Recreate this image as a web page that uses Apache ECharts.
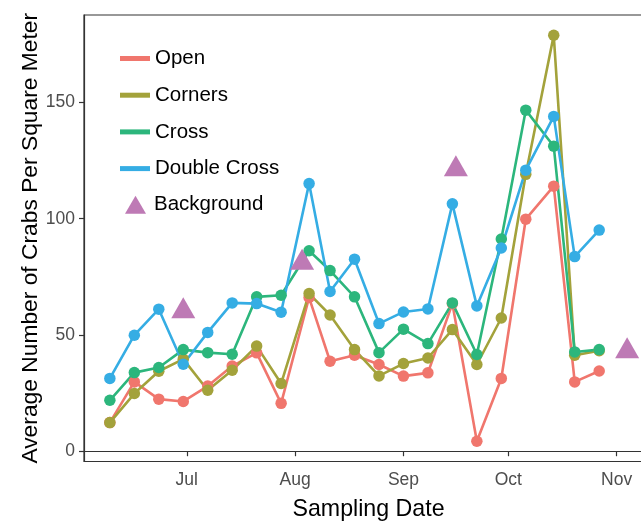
<!DOCTYPE html>
<html>
<head>
<meta charset="utf-8">
<script src="https://cdn.jsdelivr.net/npm/echarts@6/dist/echarts.min.js"></script>
<style>
  html, body { margin: 0; padding: 0; background: #ffffff; overflow: hidden; }
  /* plot panel runs past the right edge of the 641px view */
  #chart { width: 653px; height: 523px; }
</style>
</head>
<body>
<div id="chart"></div>
<script>
// Weekly sampling dates
const dates = [
  '2015-06-09', '2015-06-16', '2015-06-23', '2015-06-30', '2015-07-07',
  '2015-07-14', '2015-07-21', '2015-07-28', '2015-08-05', '2015-08-11',
  '2015-08-18', '2015-08-25', '2015-09-01', '2015-09-08', '2015-09-15',
  '2015-09-22', '2015-09-29', '2015-10-06', '2015-10-14', '2015-10-20',
  '2015-10-27'
];

// Mean crab density per treatment (crabs / m^2)
const openVals = [12.3, 29.8, 22.4, 21.4, 28.0, 36.6, 42.3, 20.6, 66.1, 38.7,
  41.3, 37.3, 32.3, 33.7, 63.5, 4.3, 31.3, 99.8, 114.0, 29.8, 34.5];
const cornersVals = [12.3, 24.8, 34.4, 39.6, 26.2, 34.8, 45.2, 29.1, 67.8, 58.6,
  43.7, 32.4, 37.7, 40.1, 52.3, 37.3, 57.3, 119.1, 178.9, 41.3, 43.2];
const crossVals = [21.9, 33.8, 36.0, 43.7, 42.4, 41.7, 66.4, 67.1, 86.2, 77.7,
  66.4, 42.4, 52.5, 46.3, 63.8, 41.6, 91.3, 146.7, 131.2, 42.7, 43.7];
const doubleCrossVals = [31.3, 49.9, 61.1, 37.4, 51.1, 63.8, 63.5, 59.8, 115.1, 68.7,
  82.6, 54.9, 59.9, 61.2, 106.4, 62.5, 87.4, 120.9, 144.0, 83.7, 95.1];

// Background (unmanipulated) samples
const bgDates = ['2015-06-30', '2015-08-03', '2015-09-16', '2015-11-04'];
const bgVals = [60.2, 81.1, 121.3, 43.0];

// Axis ticks
const monthTicks = ['2015-07-01', '2015-08-01', '2015-09-01', '2015-10-01', '2015-11-01'];
const monthLabels = ['Jul', 'Aug', 'Sep', 'Oct', 'Nov'];
const yTicks = [0, 50, 100, 150];

const treatments = [
  { name: 'Open', values: openVals, color: '#F0766D' },
  { name: 'Corners', values: cornersVals, color: '#A3A23B' },
  { name: 'Cross', values: crossVals, color: '#2CB67C' },
  { name: 'Double Cross', values: doubleCrossVals, color: '#35ADE4' }
];
const bgColor = '#BE7AB5';

const FONT = '"Liberation Sans", Arial, Helvetica, sans-serif';

// Dates as day numbers (UTC) so the x axis is a plain numeric scale
function dayNum(s) {
  const p = s.split('-').map(Number);
  return Date.UTC(p[0], p[1] - 1, p[2]) / 86400000;
}

// Axis extents padded by 5% of the data range on each side
const allX = dates.concat(bgDates).map(dayNum);
const xLo = Math.min.apply(null, allX), xHi = Math.max.apply(null, allX);
const xPad = (xHi - xLo) * 0.05;
const allY = [].concat(openVals, cornersVals, crossVals, doubleCrossVals, bgVals);
const yLo = Math.min.apply(null, allY), yHi = Math.max.apply(null, allY);
const yPad = (yHi - yLo) * 0.05;

const tickDays = monthTicks.map(dayNum);

const series = [];
// Lines first so every point sits above every line
treatments.forEach(t => {
  series.push({
    name: t.name,
    type: 'line',
    data: dates.map((d, i) => [dayNum(d), t.values[i]]),
    showSymbol: false,
    symbol: 'none',
    lineStyle: { color: t.color, width: 2.6 },
    itemStyle: { color: t.color },
    z: 2
  });
});
treatments.forEach(t => {
  series.push({
    name: t.name,
    type: 'scatter',
    data: dates.map((d, i) => [dayNum(d), t.values[i]]),
    symbol: 'circle',
    symbolSize: 11.5,
    itemStyle: { color: t.color, opacity: 1 },
    z: 3
  });
});
series.push({
  name: 'Background',
  type: 'scatter',
  data: bgDates.map((d, i) => [dayNum(d), bgVals[i]]),
  symbol: 'triangle',
  symbolSize: [24, 21],
  symbolOffset: [0, -3.5],
  itemStyle: { color: bgColor, opacity: 1 },
  z: 4
});

const chart = echarts.init(document.getElementById('chart'), null, { renderer: 'canvas' });
chart.setOption({
  animation: false,
  backgroundColor: '#ffffff',
  textStyle: { fontFamily: FONT },
  grid: {
    left: 84, top: 15, right: 0, bottom: 61.5,
    outerBoundsMode: 'none',
    show: true, borderColor: '#333333', borderWidth: 1.2, backgroundColor: 'transparent'
  },
  legend: [
    {
      orient: 'vertical', left: 120, top: 47.5, padding: 0,
      itemWidth: 30, itemHeight: 5, itemGap: 14.7,
      selectedMode: false,
      textStyle: { fontFamily: FONT, fontSize: 20.5, color: '#000000', lineHeight: 22 },
      data: treatments.map(t => ({ name: t.name, icon: 'rect', itemStyle: { color: t.color } }))
    },
    {
      orient: 'vertical', left: 125, top: 193.8, padding: 0,
      itemWidth: 21, itemHeight: 18,
      selectedMode: false,
      textStyle: { fontFamily: FONT, fontSize: 20.5, color: '#000000', lineHeight: 22, padding: [0, 0, 0, 3] },
      data: [{ name: 'Background', icon: 'triangle', itemStyle: { color: bgColor } }]
    }
  ],
  xAxis: {
    type: 'value',
    min: xLo - xPad,
    max: xHi + xPad,
    name: 'Sampling Date',
    nameLocation: 'middle',
    nameGap: 36.5,
    nameMoveOverlap: false,
    nameTextStyle: { fontFamily: FONT, fontSize: 23.2, color: '#000000' },
    axisLine: { show: true, lineStyle: { color: '#333333', width: 1.2 } },
    axisTick: { show: true, length: 5, lineStyle: { color: '#333333', width: 1.2 }, customValues: tickDays },
    axisLabel: {
      customValues: tickDays,
      margin: 10,
      fontFamily: FONT, fontSize: 17.5, color: '#4D4D4D',
      formatter: v => {
        const i = tickDays.findIndex(d => Math.abs(d - v) < 0.5);
        return i >= 0 ? monthLabels[i] : '';
      }
    },
    splitLine: { show: false }
  },
  yAxis: {
    type: 'value',
    min: yLo - yPad,
    max: yHi + yPad,
    name: 'Average Number of Crabs Per Square Meter',
    nameLocation: 'middle',
    nameGap: 41.5,
    nameMoveOverlap: false,
    nameTextStyle: { fontFamily: FONT, fontSize: 22.8, color: '#000000' },
    axisLine: { show: true, lineStyle: { color: '#333333', width: 1.2 } },
    axisTick: { show: true, length: 5, lineStyle: { color: '#333333', width: 1.2 }, customValues: yTicks },
    axisLabel: {
      customValues: yTicks,
      margin: 9,
      fontFamily: FONT, fontSize: 17.5, color: '#4D4D4D'
    },
    splitLine: { show: false }
  },
  series: series
});
</script>
</body>
</html>
